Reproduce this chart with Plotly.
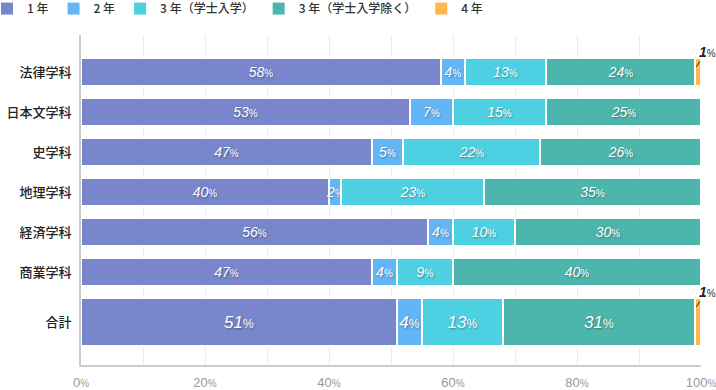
import plotly.graph_objects as go

categories = ["法律学科", "日本文学科", "史学科", "地理学科", "経済学科", "商業学科", "合計"]
row_pos = [0, 1, 2, 3, 4, 5, 6.25]
row_width = [0.7, 0.7, 0.7, 0.7, 0.7, 0.7, 1.2]

series_names = ["1 年", "2 年", "3 年（学士入学）", "3 年（学士入学除く）", "4 年"]
series_colors = ["#7986CB", "#64B5F6", "#4DD0E1", "#4DB6AC", "#FFB74D"]
values = [
    [58, 53, 47, 40, 56, 47, 51],
    [4, 7, 5, 2, 4, 4, 4],
    [13, 15, 22, 23, 10, 9, 13],
    [24, 25, 26, 35, 30, 40, 31],
    [1, 0, 0, 0, 0, 0, 1],
]
x_tickvals = [0, 10, 20, 30, 40, 50, 60, 70, 80, 90, 100]
x_ticklabels = ["0", "", "20", "", "40", "", "60", "", "80", "", "100"]

FONT = "Liberation Sans, Arial, Noto Sans CJK JP, sans-serif"

fig = go.Figure()
for si, (name, color, vals) in enumerate(zip(series_names, series_colors, values)):
    texts = []
    sizes = []
    for ri, v in enumerate(vals):
        big = categories[ri] == "合計"
        if si == 4 or v == 0:
            texts.append("")
        else:
            ps = 12 if big else 10
            texts.append(f"<i>{v}</i><span style='font-size:{ps}px'>%</span>")
        sizes.append(17 if big else 14)
    fig.add_trace(go.Bar(
        y=row_pos, x=vals, width=row_width, orientation="h", name=name,
        marker=dict(color=color, line=dict(color="white", width=2)),
        text=texts, textposition="inside", insidetextanchor="middle",
        constraintext="none", textangle=0,
        textfont=dict(color="white", size=sizes, family=FONT,
                      shadow="1px 1px 2px rgba(0,0,0,0.35)"),
        hoverinfo="skip", cliponaxis=False, showlegend=False,
    ))

# legend-only entries (solid squares without the white separator outline)
for name, color in zip(series_names, series_colors):
    fig.add_trace(go.Bar(
        y=[None], x=[None], orientation="h", name=name,
        marker=dict(color=color, line=dict(width=0)),
        showlegend=True, hoverinfo="skip",
    ))

# outside labels for small 4年 segments
for ri, v in enumerate(values[4]):
    if v > 0:
        cum = sum(values[k][ri] for k in range(5))
        x_mid = cum - v / 2
        y0 = row_pos[ri]
        half = row_width[ri] / 2
        fig.add_annotation(
            x=x_mid - 0.3, y=y0 - half + 0.22, xref="x", yref="y",
            ax=x_mid + 1.5, ay=y0 - half - 0.15, axref="x", ayref="y",
            text=f"<b><i>{v}</i></b><span style='font-size:10px;color:#333'>%</span>",
            showarrow=True, arrowhead=0, arrowwidth=1, arrowcolor="#222",
            standoff=0, startstandoff=0,
            font=dict(size=14, color="#222", family=FONT),
        )

fig.update_layout(
    width=716, height=390,
    margin=dict(l=81, r=15, t=35, b=25, autoexpand=False),
    barmode="stack", bargap=0,
    plot_bgcolor="white", paper_bgcolor="white",
    font=dict(family=FONT, color="#333"),
    showlegend=True,
    legend=dict(orientation="h", xref="paper", yref="paper",
                x=-0.1516, y=1.124, xanchor="left", yanchor="top",
                font=dict(size=12, color="#333", family="Noto Sans CJK JP, sans-serif",
                          weight=500),
                traceorder="normal", itemclick=False),
    xaxis=dict(range=[0, 100], tickvals=x_tickvals, automargin=False,
               ticktext=[(t + "<span style='font-size:10px'>%</span>") if t else "" for t in x_ticklabels],
               showgrid=True, gridcolor="#ebebeb", gridwidth=1,
               showline=True, linecolor="#cccccc", linewidth=2,
               zeroline=False, ticks="", tickfont=dict(size=13, color="#999"),
               ticklabelstandoff=4, ticklabeloverflow="allow", fixedrange=True),
    yaxis=dict(range=[7.325, -0.925], tickvals=row_pos, ticktext=categories,
               automargin=False,
               showgrid=False, showline=True, linecolor="#cccccc", linewidth=2,
               zeroline=False, ticks="", tickfont=dict(size=13, color="#222",
               family="Noto Sans CJK JP, sans-serif", weight=500),
               ticklabelstandoff=5, fixedrange=True),
)

fig.write_html("out.html", config={"displayModeBar": False},
               post_script="document.body.style.margin='0';document.body.style.padding='0';")
